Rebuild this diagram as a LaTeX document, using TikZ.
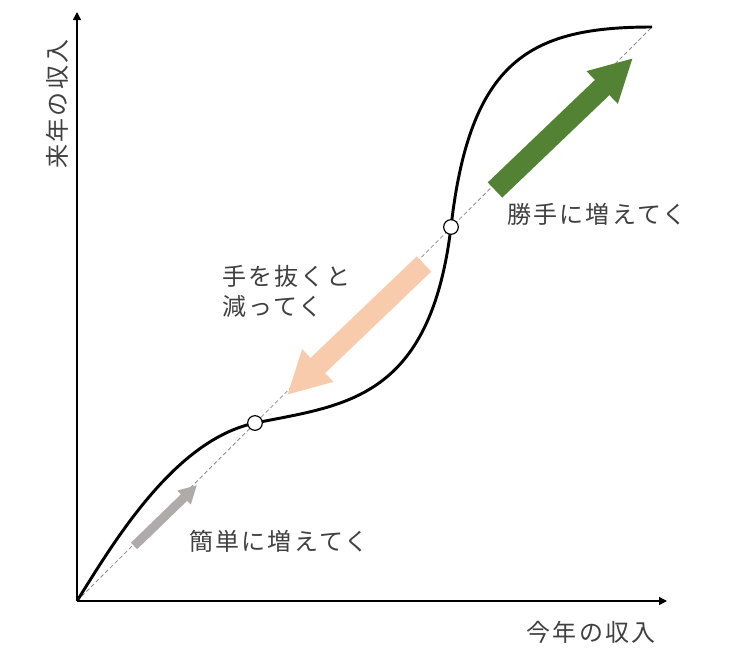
\documentclass[tikz,border=0pt]{standalone}
\usepackage{fontspec}
\newfontfamily\jpfont[LetterSpace=9]{Noto Sans CJK JP}
\usetikzlibrary{arrows.meta}

\definecolor{leafgreen}{HTML}{548235}
\definecolor{peach}{HTML}{F8CBAD}
\definecolor{ashgray}{HTML}{AFABAB}

\begin{document}
\begin{tikzpicture}[x=0.75pt, y=-0.75pt,
	label/.style={font=\jpfont\fontsize{18}{22.5}\selectfont, text=black!75, inner sep=0pt},
	axis/.style={line width=1.1pt, -{Triangle[width=6pt,length=6pt]}},
	dot/.style={circle, draw, fill=white, line width=0.9pt, minimum size=11pt, inner sep=0pt},
	fatarrow/.style={line width=15.75pt, draw=#1, -{Triangle[width=31.5pt,length=32pt]}},
	thinarrow/.style={line width=6.75pt, draw=#1, -{Triangle[width=13.5pt,length=13.5pt]}},
]
	\useasboundingbox (0,0) rectangle (729,661);

	% axes
	\coordinate (o) at (77,601);
	\coordinate (xend) at (667,601);
	\coordinate (yend) at (77,12);
	\coordinate (top) at (652,27);
	\coordinate (low) at (255,423);
	\coordinate (high) at (451,227);
	\draw[axis] (o) -- (xend);
	\draw[axis] (o) -- (yend);

	% 45 degree line
	\draw[black!45, line width=0.6pt, dash pattern=on 3pt off 2pt] (o) -- (top);

	% income curve
	\draw[line width=2.2pt] (o) .. controls (115,540) and (175,440) .. (low)
		.. controls (345,405) and (430,400) .. (high)
		.. controls (470,60) and (530,27) .. (top);

	% fixed points
	\node[dot] (lowdot) at (low) {};
	\node[dot] (highdot) at (high) {};

	% arrows
	\coordinate (gtail) at (495,190);
	\coordinate (gtip) at (633,58);
	\coordinate (ptail) at (424,264);
	\coordinate (ptip) at (287,395);
	\coordinate (atail) at (134,546);
	\coordinate (atip) at (197,485);
	\draw[fatarrow=leafgreen] (gtail) -- (gtip);
	\draw[fatarrow=peach] (ptail) -- (ptip);
	\draw[thinarrow=ashgray] (atail) -- (atip);

	% labels
	\node[label] (xlab) at (591,632) {今年の収入};
	\node[label, rotate=90] (ylab) at (57,104) {来年の収入};
	\node[label] (uplab) at (597,214) {勝手に増えてく};
	\node[label] (easylab) at (279,541) {簡単に増えてく};
	\node[label, anchor=north west, align=left] (downlab) at (222,265) {手を抜くと\\減ってく};
\end{tikzpicture}
\end{document}
